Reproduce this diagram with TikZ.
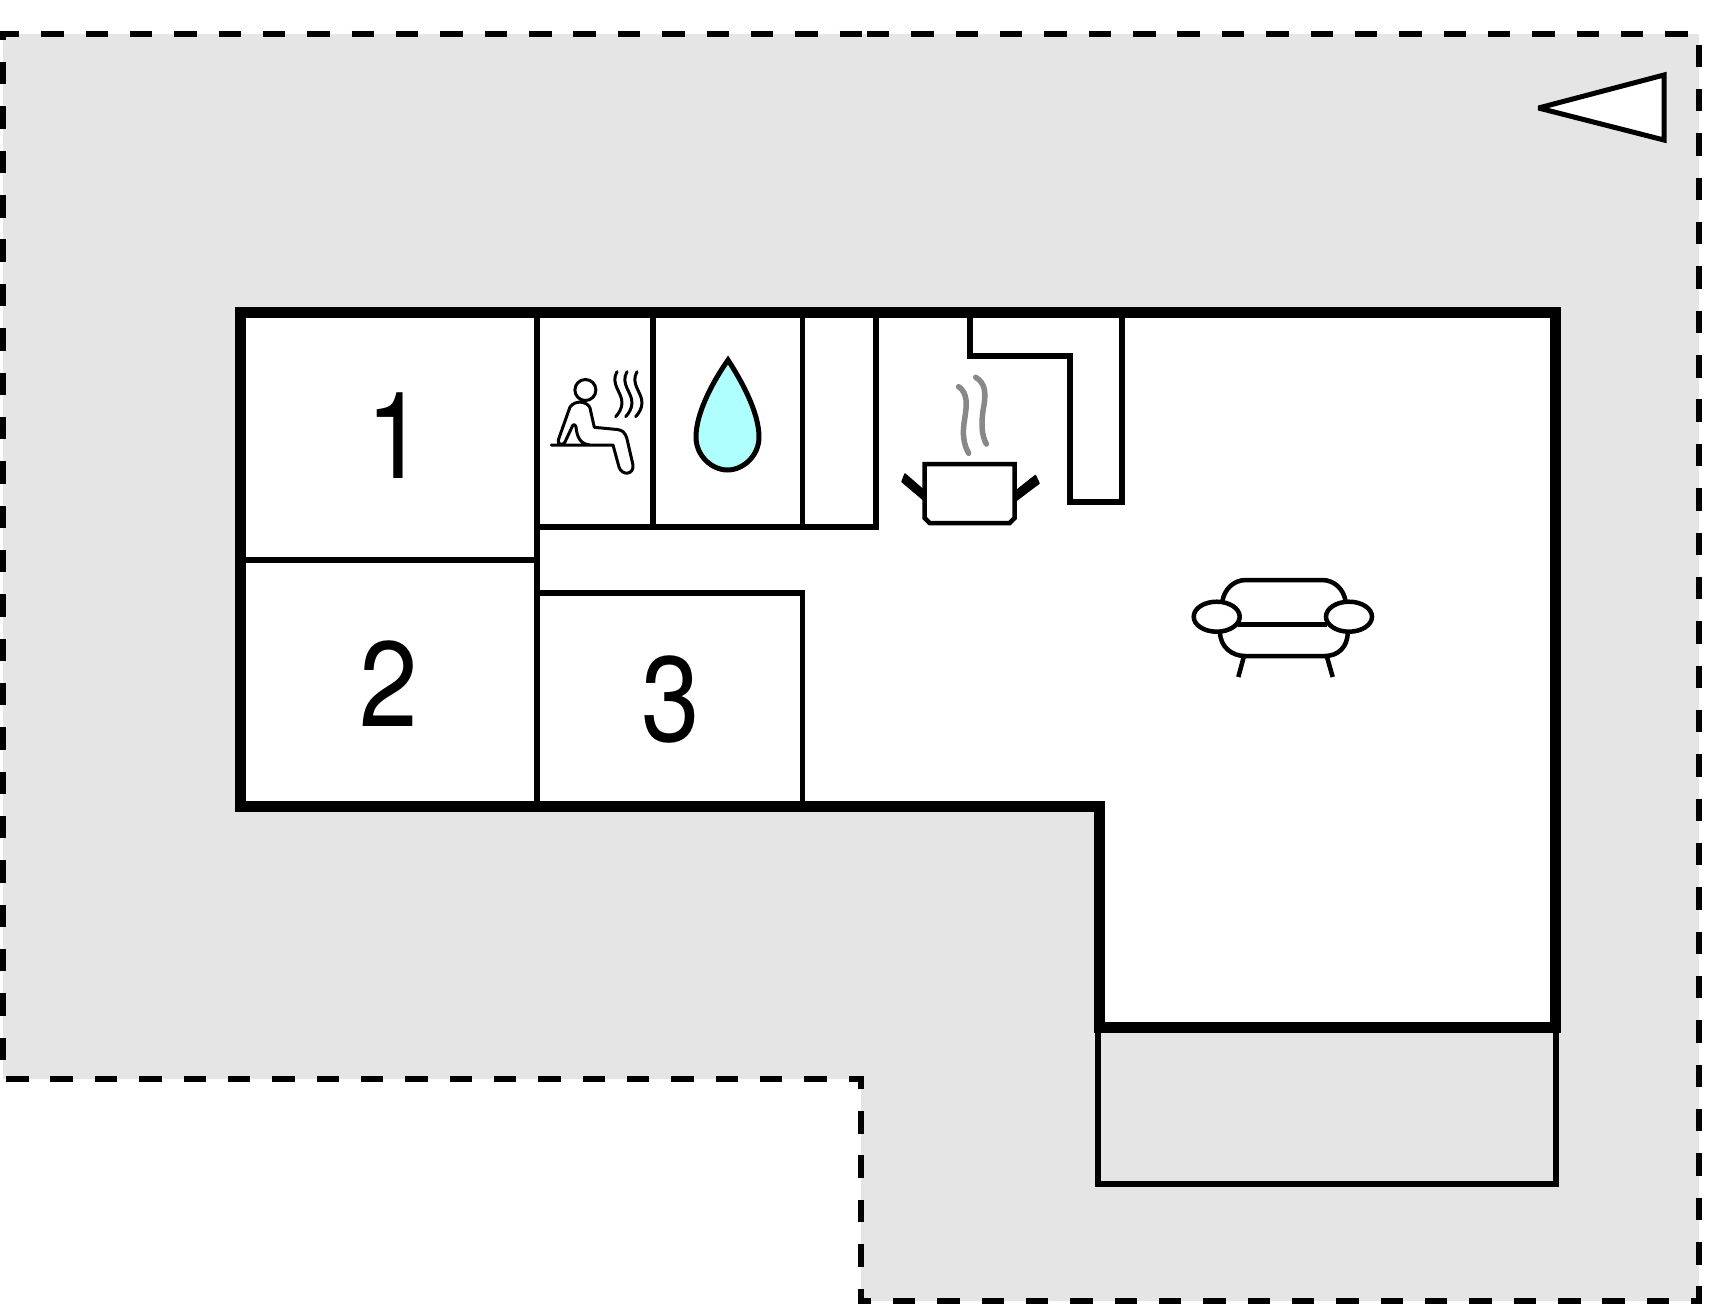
\documentclass[tikz,border=0pt]{standalone}
\usepackage{fontspec}
\setmainfont{TeX Gyre Heros}
\definecolor{plotgray}{HTML}{E5E5E5}
\definecolor{dropblue}{HTML}{B0FFFF}
\definecolor{steamgray}{HTML}{888888}
\begin{document}
\begin{tikzpicture}[x=1pt,y=-1pt,
      plot/.style={fill=plotgray,draw=black,line width=6pt,dash pattern=on 22.4pt off 21.95pt},
      mainwall/.style={fill=white,draw=black,line width=11pt,miter limit=10},
      wall/.style={draw=black,line width=5.5pt},
      icon/.style={draw=black,line width=3pt,line cap=round,line join=round},
      sofa/.style={draw=black,line width=4.5pt},
      steam/.style={draw=steamgray,line width=5.5pt,line cap=round},
      handle/.style={fill=black,draw=black,line width=1.5pt,line join=round},
      roomnum/.style={inner sep=0pt,xscale=.87,font=\fontsize{121}{121}\selectfont}]
    \useasboundingbox (0,0) rectangle (1725,1304);
    \path[plot] (867,34) -- (1699,34) -- (1699,1301) -- (861,1301) -- (861,1079)
      -- (3,1079) -- (3,34) -- (867,34);
    \draw[wall,line width=5pt,fill=white,miter limit=2.5] (1538.5,108) -- (1664,75) -- (1664,140) -- cycle;
    \draw[wall] (1098,1027) rectangle (1556,1184);
    \path[mainwall] (240,312.5) -- (1555.5,312.5) -- (1555.5,1027) -- (1099,1027)
      -- (1099,806) -- (240,806) -- cycle;
    \draw[wall] (240,560) -- (537,560);
    \draw[wall] (537,312) -- (537,806);
    \draw[wall] (653,312) -- (653,527);
    \draw[wall] (802.5,312) -- (802.5,527);
    \draw[wall] (537,527) -- (876,527) -- (876,312);
    \draw[wall] (537,593) -- (802.5,593) -- (802.5,806);
    \draw[wall] (970,312) -- (970,356) -- (1070,356) -- (1070,502) -- (1122,502) -- (1122,312);
    \node[roomnum] (roomone) at (396,436) {1};
    \node[roomnum] (roomtwo) at (389,684) {2};
    \node[roomnum] (roomthree) at (671,700) {3};
    \draw[icon] (585.4,390) circle (10.5);
    \draw[icon] (551.4,445) -- (613,445) -- (619,467)
      .. controls (622,476) and (634,475) .. (633,465)
      -- (627,439) .. controls (625,432) and (622,430) .. (617,429.5)
      -- (594.3,427.3) -- (590,408) .. controls (588,402) and (576,399) .. (570,407)
      -- (559,438) .. controls (556,445) and (563,446) .. (565,442)
      -- (572,427) .. controls (573,424) and (575,424) .. (576,427)
      .. controls (577,437) and (580,444) .. (590,445);
    \foreach \dx in {0,10,20}
      \draw[icon,xshift=\dx pt] (617,371.7) .. controls (610,384) and (622,392) .. (622,403)
        .. controls (622,408) and (619,413) .. (615.7,416.7);
    \draw[wall,line width=5pt,fill=dropblue] (728,360) .. controls (714,380) and (696,412) .. (696,437)
      .. controls (696,456) and (712,470) .. (727.5,470)
      .. controls (743,470) and (759,456) .. (759,437)
      .. controls (759,412) and (741,380) .. (728,360) -- cycle;
    \draw[wall,line width=4.5pt] (924.6,464) -- (1014.6,464) -- (1014.6,518) -- (1009.6,523)
      -- (929.6,523) -- (924.6,518) -- cycle;
    \path[handle] (902,481.7) -- (905,474) -- (925.7,492) -- (925.7,501.7) -- cycle;
    \path[handle] (1014.6,492) -- (1035.4,475.5) -- (1039,483.3) -- (1014.6,501.7) -- cycle;
    \draw[steam] (958.6,386.7) .. controls (968,393) and (967,405) .. (964.5,420)
      .. controls (962,435) and (964,445) .. (968.6,453.3);
    \draw[steam] (975.7,377.3) .. controls (985,383) and (986,392) .. (984,405)
      .. controls (981,420) and (981,435) .. (986.4,444);
    \draw[sofa] (1222.3,601.7) .. controls (1224,590) and (1233,580) .. (1246,580) -- (1322,580)
      .. controls (1335,580) and (1344,590) .. (1345.7,601.7);
    \draw[sofa] (1238.3,624.7) -- (1326.7,624.7);
    \draw[sofa] (1220,631.7) .. controls (1220,647) and (1232,656) .. (1245,656) -- (1325,656)
      .. controls (1338,656) and (1348,647) .. (1347.7,631.7);
    \draw[sofa] (1244,656) -- (1238.3,677);
    \draw[sofa] (1326.7,656) -- (1332.7,677);
    \draw[sofa,fill=white] (1216.7,616.7) ellipse (23 and 15);
    \draw[sofa,fill=white] (1349,616.7) ellipse (23 and 15);
  \end{tikzpicture}
\end{document}
